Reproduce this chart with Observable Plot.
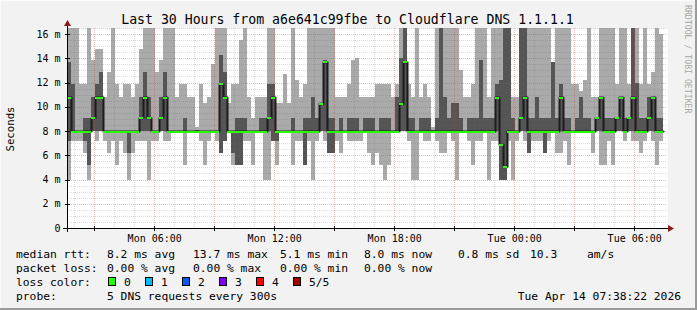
<!DOCTYPE html>
<html><head><meta charset="utf-8">
<script src="https://cdn.jsdelivr.net/npm/d3@7"></script>
<script src="https://cdn.jsdelivr.net/npm/@observablehq/plot@0.6"></script>
<style>
html,body{margin:0;padding:0;background:#f2f2f2;}
svg{display:block;}
</style></head>
<body><div id="chart"></div>
<script>
// ---- data (ms values per 12-minute bucket) ----
const pingMax = [17,17,17,11.9,11.9,17,13.9,14.8,14.8,10.8,12.9,17,11.9,10.8,11.9,11.9,10.8,11.9,14.8,17,17,17,12.9,13.9,17,
17,17,10.8,11.9,11.9,10.8,10.8,8.3,11.9,10.3,10.8,13.5,17,17,17,10.3,11.9,11.9,15.5,16.5,10.8,9.1,10.8,10.8,10.8,
17,17,10.3,10.3,12.7,10.3,17,12.2,10.8,11.9,17,17,17,17,17,17,17,10.8,10.8,10.8,11.9,13.9,14,10.8,10.8,
10.8,10.8,11.9,11.9,11.9,11.9,10.8,11.9,17,17,11.9,10.8,17,10.8,11.9,10.8,8.3,17,17,17,17,17,17,13,10.8,
10.8,11.9,17,17,17,10.8,17,17,17,17,17,10.8,10.8,17,17,17,17,17,17,17,17,13.7,17,17,17,
17,11.9,11.9,11.3,12.2,17,10.8,10.8,17,17,17,17,11.9,17,17,11.9,17,17,11.9,17,11.9,12.9,17,16];
const pingHi = [13.7,11.9,8,8,9.1,9.1,10.8,11.9,12.9,8,8,8,8,8,8,8,8,8,10.8,12.9,10.8,8,8,10.8,12.9,
8,8,8,8,9.1,8,8,8.1,8,8,8,8,8,14.3,12.9,8,8,9.1,9.1,9.1,8,8,8,9.1,9.1,
11.9,11.9,8,8,8,8,9.1,8,8,9.1,9.1,10.8,9.1,10.3,13.9,9.1,9.1,8,9.1,8,9.1,9.1,9.1,8,9.1,
9.1,9.1,8,9.1,9.1,9.1,8,10.8,14,17,9.1,9.1,8,9.1,9.1,9.1,8.1,9.1,17,10.8,9.1,10.3,10.3,9.1,8,
9.1,9.1,9.1,13.9,9.1,9.1,9.1,11.9,12.2,17,17,9.1,8,17,17,9.1,9.1,10.8,9.1,9.1,9.1,13.7,9.1,11.9,9.1,
9.1,8,9.1,10.8,9.1,9.1,8,9.1,10.8,9.1,9.1,9.1,9.1,10.8,9.1,9.1,17,12,9.1,9.1,10.8,10.8,9.1,9.1];
const pingMed = [10.8,8,8,8,8,8,9.1,10.8,10.8,8,8,8,8,8,8,8,8,8,9.1,10.8,9.1,8,8,9.1,10.8,
8,8,8,8,8,8,8,8,8,8,8,8,8,11.9,10.8,8,8,8,8,8,8,8,8,8,8,
9.1,10.8,8,8,8,8,8,8,8,8,8,8,8,10.3,13.7,8,8,8,8,8,8,8,8,8,8,
8,8,8,8,8,8,8,8,10.3,13.7,8,8,8,8,8,8,8,8,8,8,8,8,8,8,8,
8,8,8,8,8,8,8,10.8,6.9,5.1,8,8,8,9.1,10.8,8,8,8,8,8,8,8,8,10.8,8,
8,8,8,8,8,8,8,9.1,10.8,8,8,8,9.1,10.8,8,9.1,10.8,8,8,8,9.1,10.8,8,8];
const pingLo = [7.2,8,8,8,7.2,5.2,8,8,8,8,8,8,8,8,8,6.2,8,8,8,8,8,8,8,8,8,
8,8,8,8,8,8,8,8,8,8,8,8,8,6.2,7.2,8,6.2,5.2,5.2,8,8,8,8,8,8,
8,7.2,7.2,8,8,8,8,8,8,5.2,8,8,8,8,8,6.2,6.2,8,8,8,8,8,8,8,8,
8,8,8,8,8,8,8,8,8,8,8,8,8,8,8,8,8,8,8,8,8,8,8,8,8,
8,8,8,8,8,8,8,8,4.0,4.0,8,8,8,8,8,6.2,8,8,8,6.2,8,8,8,8,8,
8,8,8,8,8,8,8,8,8,8,8,8,8,8,8,8,8,8,8,8,8,8,8,8];
const pingMin = [4.0,7.2,7.2,7.2,6.2,4.0,8,7.2,8,7.2,6.2,7.2,5.2,7.2,6.2,4.0,6.2,7.2,7.2,7.2,4.0,7.2,7.2,8,7.2,
7.2,8,8,8,5.2,8,8,8,7.2,5.2,7.2,8,7.2,6.2,7.2,8,5.2,5.2,5.2,7.2,7.2,5.2,8,8,4.0,
4.0,7.2,5.2,8,8,8,5.2,7.2,7.2,5.2,7.2,4.0,7.2,8,7.2,6.2,6.2,7.2,6.2,8,7.2,7.2,7.2,7.2,8,
6.2,5.2,6.2,5.2,4.0,5.2,8,8,8,8,7.2,4.0,4.0,8,7.2,7.2,8,7.2,6.2,6.2,8,7.2,4.0,8,8,
7.2,5.2,7.2,7.2,8,4.0,7.2,7.2,4.0,4.0,7.2,4.0,7.2,8,7.2,6.2,7.2,7.2,7.2,6.2,7.2,8,6.2,6.2,7.2,
5.2,8,8,8,8,8,6.2,8,5.2,5.2,7.2,5.2,8,8,7.2,8,7.2,7.2,6.2,7.2,8,7.2,5.2,7.2];

const yTicks = [0,2,4,6,8,10,12,14,16];
const yTickLabels = ["0","2 m","4 m","6 m","8 m","10 m","12 m","14 m","16 m"];
const xTickTimes = [Date.UTC(2026,3,13,6), Date.UTC(2026,3,13,12), Date.UTC(2026,3,13,18), Date.UTC(2026,3,14,0), Date.UTC(2026,3,14,6)];
const xTickLabels = ["Mon 06:00","Mon 12:00","Mon 18:00","Tue 00:00","Tue 06:00"];

const titleText = "Last 30 Hours from a6e641c99fbe to Cloudflare DNS 1.1.1.1";
const rttLabels = ["median rtt:", "8.2 ms avg", "13.7 ms max", "5.1 ms min", "8.0 ms now", "0.8 ms sd", "10.3", "am/s"];
const lossLabels = ["packet loss:", "0.00 % avg", "0.00 % max", "0.00 % min", "0.00 % now"];
const lossColorNames = ["0","1","2","3","4","5/5"];
const lossColors = ["#26ff00","#00b8ff","#0059ff","#7e00ff","#ff0000","#a10000"];
const probeText = "5 DNS requests every 300s";
const stampText = "Tue Apr 14 07:38:22 2026";

// ---- build table ----
const T_START = Date.UTC(2026,3,13,1,38,22);
const T_END = Date.UTC(2026,3,14,7,38,22);
const STEP = 12*60000;
const rows = pingMed.map((md,k) => ({
  t0: new Date(T_START + k*STEP), t1: new Date(T_START + (k+1)*STEP),
  mx: pingMax[k], hi: pingHi[k], md, lo: pingLo[k], mn: pingMin[k]
}));
const medPts = rows.map(r => ({t: r.t0, md: r.md}));
medPts.push({t: rows[rows.length-1].t1, md: rows[rows.length-1].md});

const hours = d3.utcHour.range(new Date(T_START), new Date(T_END));
const majorX = hours.filter(d => d.getUTCHours() % 3 === 0);
const minorX = hours.filter(d => d.getUTCHours() % 3 !== 0);
const majorY = yTicks.filter(v => v > 0);
const minorY = d3.range(0.5, 16.6, 0.5).filter(v => v % 2 !== 0);

const xLab = new Map(xTickTimes.map((t,i) => [t, xTickLabels[i]]));
const yLab = new Map(yTicks.map((v,i) => [v, yTickLabels[i]]));
const MONO = "DejaVu Sans Mono";
const GRID = "rgba(110,110,110,0.24)";
const MGRID = "rgba(220,60,60,0.36)";

const chart = Plot.plot({
  width: 697, height: 310,
  marginLeft: 67, marginRight: 30, marginTop: 28, marginBottom: 82,
  style: {background: "#f2f2f2", fontFamily: MONO, fontSize: "10px", color: "#000"},
  x: {type: "utc", domain: [new Date(T_START), new Date(T_END)]},
  y: {domain: [0, 16.5]},
  marks: [
    Plot.frame({fill: "white", stroke: "none"}),
    Plot.rect(rows, {x1: "t0", x2: "t1", y1: "mn", y2: "mx", fill: "#aaaaaa", clip: true, shapeRendering: "crispEdges"}),
    Plot.rect(rows, {x1: "t0", x2: "t1", y1: "lo", y2: "hi", fill: "#555555", clip: true, shapeRendering: "crispEdges"}),
    Plot.ruleX(minorX, {stroke: GRID, strokeDasharray: "1,1", shapeRendering: "crispEdges"}),
    Plot.ruleY(minorY, {stroke: GRID, strokeDasharray: "1,1", shapeRendering: "crispEdges"}),
    Plot.ruleX(majorX, {stroke: MGRID, strokeDasharray: "1,1", shapeRendering: "crispEdges"}),
    Plot.ruleY(majorY, {stroke: MGRID, strokeDasharray: "1,1", shapeRendering: "crispEdges"}),
    Plot.line(medPts, {x: "t", y: "md", curve: "step-after", stroke: "#1c1c1c", strokeWidth: 2, clip: true}),
    Plot.ruleY(rows, {x1: "t0", x2: "t1", y: "md", stroke: "#26ff00", strokeWidth: 2, shapeRendering: "crispEdges", clip: true}),
    Plot.axisX(xTickTimes.map(t => new Date(t)), {tickFormat: d => xLab.get(+d), tickSize: 0, tickPadding: 6, label: null, fontSize: 10}),
    Plot.axisY(yTicks, {tickFormat: d => yLab.get(d), tickSize: 0, tickPadding: 7, label: null, fontSize: 10})
  ]
});
document.getElementById("chart").appendChild(chart);

// ---- decorations (axes lines, arrows, title, legend) ----
const svg = d3.select(chart);
const xs = chart.scale("x"), ys = chart.scale("y");
const x0 = xs.range[0], x1 = xs.range[1];
const y0 = ys.apply(0), yTop = ys.apply(16.5);

svg.append("rect").attr("x", 0.5).attr("y", 0.5).attr("width", 695).attr("height", 308)
  .attr("fill", "none").attr("stroke", "#fafafa");
svg.append("line").attr("x1", 696).attr("x2", 696).attr("y1", 0).attr("y2", 310).attr("stroke", "#9a9a9a").attr("stroke-width", 2);
svg.append("line").attr("x1", 0).attr("x2", 697).attr("y1", 309).attr("y2", 309).attr("stroke", "#9a9a9a").attr("stroke-width", 2);

const g = svg.append("g").attr("shape-rendering", "crispEdges");
g.append("line").attr("x1", x0 - 4).attr("x2", x1 + 1).attr("y1", y0 + 0.5).attr("y2", y0 + 0.5).attr("stroke", "#000");
g.append("line").attr("x1", x0 + 0.5).attr("x2", x0 + 0.5).attr("y1", y0 + 4).attr("y2", yTop - 3).attr("stroke", "#000");
majorY.forEach(v => g.append("line").attr("x1", x0 - 2).attr("x2", x0 + 3).attr("y1", Math.round(ys.apply(v)) + 0.5).attr("y2", Math.round(ys.apply(v)) + 0.5).attr("stroke", "#000"));
majorX.forEach(d => g.append("line").attr("x1", Math.round(xs.apply(d)) + 0.5).attr("x2", Math.round(xs.apply(d)) + 0.5).attr("y1", y0 - 2).attr("y2", y0 + 3).attr("stroke", "#000"));
svg.append("path").attr("d", `M${x0-3},${yTop-2}L${x0+4},${yTop-2}L${x0+0.5},${yTop-8}Z`).attr("fill", "#8b1a1a");
svg.append("path").attr("d", `M${x1+1},${y0-3}L${x1+1},${y0+4}L${x1+7},${y0+0.5}Z`).attr("fill", "#8b1a1a");

svg.append("text").attr("x", 347.5).attr("y", 19).attr("dy", "0.35em").attr("text-anchor", "middle")
  .attr("font-family", MONO).attr("font-size", 13.2).attr("fill", "#000").text(titleText);
svg.append("text").attr("transform", "translate(10,129) rotate(-90)").attr("dy", "0.35em").attr("text-anchor", "middle")
  .attr("font-family", MONO).attr("font-size", 10.7).attr("fill", "#000").text("Seconds");
svg.append("text").attr("transform", "translate(688,5) rotate(90)").attr("dy", "0.35em").attr("text-anchor", "start")
  .attr("font-family", MONO).attr("font-size", 8.2).attr("fill", "#a8a8a8").text("RRDTOOL / TOBI OETIKER");

const LF = 11.3;
const colX = [16, 107, 193, 280, 364, 458, 530, 587];
const rowY = [254, 268, 282, 296];
function lt(x, y, s, anchor) {
  svg.append("text").attr("x", x).attr("y", y).attr("dy", "0.35em").attr("text-anchor", anchor || "start")
    .attr("font-family", MONO).attr("font-size", LF).attr("fill", "#000").attr("xml:space", "preserve").text(s);
}
rttLabels.forEach((s, i) => lt(colX[i], rowY[0], s));
lossLabels.forEach((s, i) => lt(colX[i], rowY[1], s));
lt(16, rowY[2], "loss color:");
const boxX = [108, 145, 182, 219, 256, 293];
lossColorNames.forEach((s, i) => {
  svg.append("rect").attr("x", boxX[i] + 0.5).attr("y", rowY[2] - 4.5).attr("width", 7).attr("height", 8)
    .attr("fill", lossColors[i]).attr("stroke", "#000").attr("shape-rendering", "crispEdges");
  lt(boxX[i] + 16, rowY[2], s);
});
lt(16, rowY[3], "probe:");
lt(107, rowY[3], probeText);
lt(681, rowY[3], stampText, "end");
</script>
</body></html>
